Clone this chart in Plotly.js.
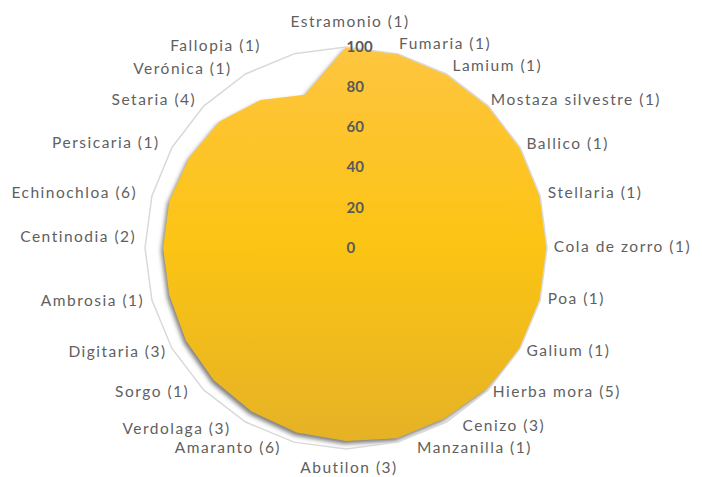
<!DOCTYPE html>
<html>
<head>
<meta charset="utf-8">
<script src="https://cdn.plot.ly/plotly-3.0.1.min.js"></script>
<style>
html,body{margin:0;padding:0;background:#fff;}
#chart{width:702px;height:477px;}
.polarlayer .angular-axis text{letter-spacing:1.5px;}
</style>
</head>
<body>
<div id="chart"></div>
<script>
const categories = ["Estramonio","Fumaria","Lamium","Mostaza silvestre","Ballico","Stellaria","Cola de zorro","Poa","Galium","Hierba mora","Cenizo","Manzanilla","Abutilon","Amaranto","Verdolaga","Sorgo","Digitaria","Ambrosia","Centinodia","Echinochloa","Persicaria","Setaria","Verónica","Fallopia"];
const counts = [1,1,1,1,1,1,1,1,1,5,3,1,3,6,3,1,3,1,2,6,1,4,1,1];
const values = [100,100,100,100,100,100,100,100,100,99,98,98,96,95,94,93,92,91,91,91,90,89,85,79];
const radialTicks = [0,20,40,60,80,100];

const labels = categories.map((c,i)=> c + " (" + counts[i] + ")");

// small label nudges (pixels) to mimic the original label placement
const labelNudge = {
  "Estramonio": [4, -13],
  "Lamium": [4, 0],
  "Ballico": [3, 0],
  "Stellaria": [4, -1],
  "Cola de zorro": [3, -1],
  "Poa": [4, -6],
  "Galium": [3, -7],
  "Hierba mora": [2, -11],
  "Manzanilla": [18, -9],
  "Cenizo": [14, -11],
  "Abutilon": [3, 5],
  "Amaranto": [-12, -9],
  "Verdolaga": [-13, -8],
  "Sorgo": [-12, -11],
  "Digitaria": [-2, -6],
  "Ambrosia": [-4, -4],
  "Centinodia": [-5, -11],
  "Echinochloa": [-11, -1],
  "Persicaria": [-9, -1],
  "Setaria": [-5, 0],
  "Verónica": [-12, 3],
  "Fallopia": [-32, 2]
};

const trace = {
  type: "scatterpolar",
  r: values.concat([values[0]]),
  theta: labels.concat([labels[0]]),
  mode: "lines",
  fill: "toself",
  fillcolor: "#FCC419",
  line: {color: "rgba(0,0,0,0)", width: 0},
  hoverinfo: "skip"
};

const layout = {
  width: 702, height: 477,
  margin: {l:0, r:0, t:0, b:0},
  paper_bgcolor: "#ffffff",
  showlegend: false,
  font: {family: "Lato, 'Open Sans', sans-serif", color: "#595959"},
  polar: {
    domain: {x: [0.2066, 0.7792], y: [0.0587, 0.9015]},
    bgcolor: "rgba(0,0,0,0)",
    gridshape: "linear",
    angularaxis: {
      rotation: 90,
      direction: "clockwise",
      showgrid: false,
      showline: true,
      linecolor: "#D9D9D9",
      linewidth: 1.5,
      ticks: "",
      tickfont: {size: 15.5, color: "#5f5f5f", family: "Lato, sans-serif"}
    },
    radialaxis: {
      range: [0, 100],
      angle: 90,
      tickangle: 90,
      tickvals: radialTicks,
      ticktext: radialTicks.map(String),
      showline: false,
      showgrid: false,
      ticks: "",
      tickfont: {size: 15, color: "#595959", family: "Lato, sans-serif", weight: "bold"}
    }
  }
};

Plotly.newPlot("chart", [trace], layout, {displayModeBar: false, staticPlot: true}).then(gd => {
  const svg = gd.querySelector("svg.main-svg");
  const ns = "http://www.w3.org/2000/svg";
  let defs = svg.querySelector("defs");
  if (!defs) { defs = document.createElementNS(ns, "defs"); svg.insertBefore(defs, svg.firstChild); }
  const g = document.createElementNS(ns, "linearGradient");
  g.setAttribute("id", "yellowGrad");
  g.setAttribute("x1", "0"); g.setAttribute("y1", "0");
  g.setAttribute("x2", "0"); g.setAttribute("y2", "1");
  [["0", "#FEC540"], ["0.5", "#FCC413"], ["1", "#E5B226"]].forEach(([o, c]) => {
    const s = document.createElementNS(ns, "stop");
    s.setAttribute("offset", o); s.setAttribute("stop-color", c);
    g.appendChild(s);
  });
  defs.appendChild(g);
  gd.querySelectorAll("path.js-fill").forEach(p => {
    p.style.fill = "url(#yellowGrad)";
    p.style.filter = "drop-shadow(-2px 3px 2px rgba(0,0,0,0.5))";
  });
  gd.querySelectorAll(".polarlayer .angular-axis text").forEach(t => {
    const name = (t.textContent || "").replace(/\s*\(.*$/, "");
    const n = labelNudge[name];
    if (!n) return;
    const x = parseFloat(t.getAttribute("x") || "0");
    const y = parseFloat(t.getAttribute("y") || "0");
    t.setAttribute("x", x + n[0]);
    t.setAttribute("y", y + n[1]);
  });
});
</script>
</body>
</html>
